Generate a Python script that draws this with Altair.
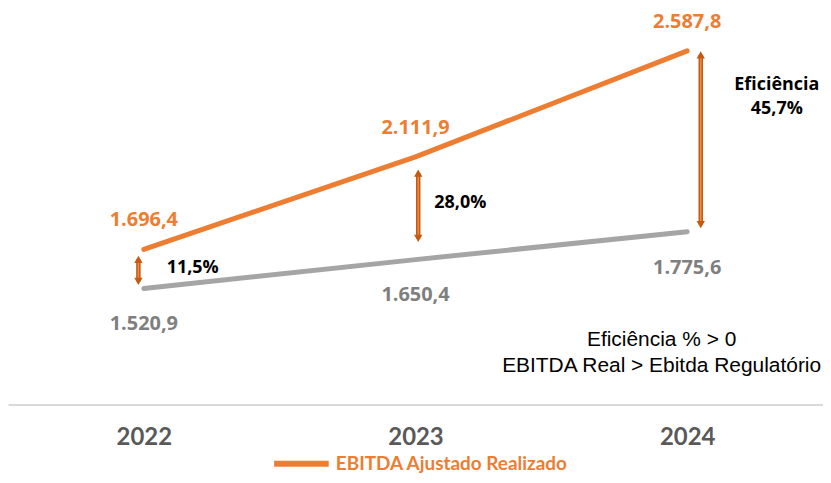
import altair as alt
import pandas as pd

years = [2022, 2023, 2024]
realizado = [1696.4, 2111.9, 2587.8]
regulatorio = [1520.9, 1650.4, 1775.6]
eficiencia = ["11,5%", "28,0%", "45,7%"]
series_name = "EBITDA Ajustado Realizado"

# arrow geometry (data units)
arrow_x = [2021.98, 2023.01, 2024.05]
arrow_top = [1651, 2039, 2570]
arrow_bottom = [1553, 1746, 1808]
pct_x = [2022.18, 2023.165, 2024.33]
pct_y = [1611, 1906, 2328]
note_lines = ["Eficiência % > 0", "EBITDA Real > Ebitda Regulatório"]


def br(v):
    return f"{v:,.1f}".replace(",", "X").replace(".", ",").replace("X", ".")


df = pd.DataFrame({
    "year": years,
    "real": realizado,
    "reg": regulatorio,
    "real_lbl": [br(v) for v in realizado],
    "reg_lbl": [br(v) for v in regulatorio],
    "series": [series_name] * 3,
})
arr = pd.DataFrame({"ax": arrow_x, "top": arrow_top, "bot": arrow_bottom})
pct = pd.DataFrame({"px": pct_x, "py": pct_y, "t": eficiencia})
ef_title = pd.DataFrame({"px": [pct_x[2]], "py": [2435], "t": ["Eficiência"]})
notes = pd.DataFrame({"px": [2023.906, 2023.906], "py": [1289, 1172], "t": note_lines})

xs = alt.Scale(domain=[2021.5, 2024.5], nice=False, zero=False)
ys = alt.Scale(domain=[1000, 2750], nice=False, zero=False)

X = alt.X("year:Q", scale=xs,
          axis=alt.Axis(values=years, format="d", title=None, grid=False, ticks=False,
                        domainColor="#D9D9D9", domainWidth=2,
                        labelFont="Lato", labelFontWeight="bold",
                        labelFontSize=24, labelColor="#595959", labelPadding=21))

base = alt.Chart(df)

gray = base.mark_line(strokeWidth=5, strokeCap="round", color="#A5A5A5").encode(
    x=X, y=alt.Y("reg:Q", scale=ys, axis=None))

orange = base.mark_line(strokeWidth=5, strokeCap="round").encode(
    x=alt.X("year:Q"), y=alt.Y("real:Q", axis=None),
    color=alt.Color("series:N",
                    scale=alt.Scale(domain=[series_name], range=["#ED7D31"]),
                    legend=alt.Legend(title=None, orient="none", legendX=264, legendY=420,
                                      padding=0, symbolType="stroke", symbolStrokeWidth=6,
                                      symbolSize=3000, labelOffset=4, labelLimit=500,
                                      labelFont="Lato", labelFontWeight="bold",
                                      labelFontSize=19, labelColor="#ED7D31")),
)

real_lbl = base.mark_text(font="Open Sans", fontWeight="bold", fontSize=20,
                          color="#ED7D31", dy=-29, baseline="middle").encode(
    x="year:Q", y=alt.Y("real:Q", axis=None), text="real_lbl:N")
reg_lbl = base.mark_text(font="Open Sans", fontWeight="bold", fontSize=20,
                         color="#7F7F7F", dy=36, baseline="middle").encode(
    x="year:Q", y=alt.Y("reg:Q", axis=None), text="reg_lbl:N")

ac = alt.Chart(arr)
shaft = ac.mark_rule(strokeWidth=4.5, color="#C55A11").encode(
    x="ax:Q", y=alt.Y("top:Q", axis=None), y2="bot:Q")
shaft_in = ac.mark_rule(strokeWidth=1.5, color="#F08A45").encode(
    x="ax:Q", y=alt.Y("top:Q", axis=None), y2="bot:Q")
head_up = ac.mark_point(shape="triangle-up", size=70, filled=True, color="#C55A11",
                        opacity=1).encode(x="ax:Q", y=alt.Y("top:Q", axis=None))
head_dn = ac.mark_point(shape="triangle-down", size=70, filled=True, color="#C55A11",
                        opacity=1).encode(x="ax:Q", y=alt.Y("bot:Q", axis=None))

pct_txt = alt.Chart(pct).mark_text(font="Open Sans", fontWeight="bold", fontSize=18,
                                   color="#000000", baseline="middle").encode(
    x="px:Q", y=alt.Y("py:Q", axis=None), text="t:N")
ef_txt = alt.Chart(ef_title).mark_text(font="Open Sans", fontWeight="bold", fontSize=18,
                                       color="#000000", baseline="middle").encode(
    x="px:Q", y=alt.Y("py:Q", axis=None), text="t:N")
note_txt = alt.Chart(notes).mark_text(font="Liberation Sans", fontSize=21,
                                      color="#000000", baseline="middle").encode(
    x="px:Q", y=alt.Y("py:Q", axis=None), text="t:N")

chart = alt.layer(gray, orange, shaft, shaft_in, head_up, head_dn,
                  real_lbl, reg_lbl, pct_txt, ef_txt, note_txt).properties(
    width=818, height=391,
    autosize=alt.AutoSizeParams(type="none"),
    padding={"left": 0, "top": 6, "right": 0, "bottom": 70},
    background="#FFFFFF",
).configure_view(stroke=None)

chart.save("out.html", embed_options={"renderer": "svg", "actions": False})
